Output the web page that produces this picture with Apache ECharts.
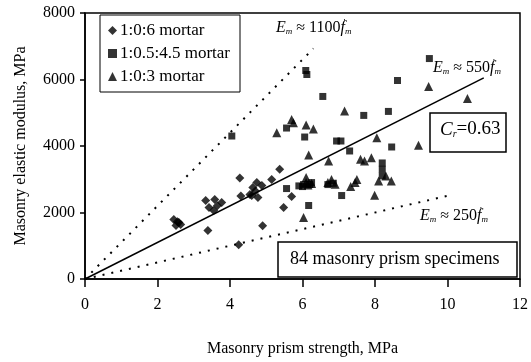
<!DOCTYPE html>
<html>
<head>
<meta charset="utf-8">
<script src="https://cdn.jsdelivr.net/npm/echarts@6/dist/echarts.min.js"></script>
<style>
  html, body { margin: 0; padding: 0; background: #fff; }
  #chart { width: 531px; height: 362px; }
</style>
</head>
<body>
<div id="chart"></div>
<script>
// mortar 1:0:6 (diamonds)
var mortar106 = [
    [2.45, 1790], [2.59, 1700], [2.51, 1610], [2.64, 1640], [2.55, 1720],
    [3.33, 2360], [3.58, 2390], [3.77, 2300], [3.42, 2150], [3.55, 2060], [3.39, 1460], [3.65, 2200],
    [4.27, 3040], [4.24, 1030], [4.3, 2500], [4.55, 2540], [4.63, 2750], [4.74, 2900], [4.88, 2810],
    [4.77, 2450], [4.6, 2510], [4.7, 2650], [4.9, 1600], [5.15, 2990], [5.37, 3300], [5.7, 2480], [5.48, 2150]
]
// mortar 1:0.5:4.5 (squares)
var mortar1545 = [
    [4.05, 4300], [5.56, 4540], [6.09, 6270], [6.12, 6150], [6.56, 5490], [6.06, 4270], [6.94, 4150], [7.06, 4150],
    [7.3, 3850], [7.69, 4920], [8.37, 5040], [8.62, 5970], [9.5, 6630], [8.46, 3970], [8.2, 3490],
    [8.2, 3300], [8.2, 3100], [5.56, 2720], [6.03, 2840], [6.2, 2840], [6.17, 2210], [6.7, 2840],
    [6.85, 2880], [7.08, 2510], [6.0, 2780], [6.25, 2900], [5.9, 2800]
]
// mortar 1:0:3 (triangles)
var mortar103 = [
    [5.29, 4400], [5.7, 4800], [5.75, 4700], [6.1, 4630], [6.3, 4510], [7.16, 5050], [9.48, 5790], [10.55, 5430],
    [8.05, 4250], [9.2, 4020], [6.17, 3730], [6.72, 3550], [7.71, 3550], [7.9, 3650], [8.45, 2950],
    [7.5, 2990], [7.33, 2780], [7.99, 2520], [6.03, 1850], [6.1, 3050], [6.8, 2990], [6.1, 2900],
    [6.25, 2870], [6.7, 2900], [7.45, 2900], [8.1, 2950], [7.6, 3600], [6.9, 2850], [6.15, 2830], [8.3, 3100]
]
// reference lines E = k f'm, endpoints as drawn
var line1100 = [[0, 0], [6.3, 6930]]
var line550 = [[0, 0], [11.0, 6050]]
var line250 = [[0, 0], [10.0, 2500]]

var serif = 'Liberation Serif'
var chart = echarts.init(document.getElementById('chart'))

function emText(k) {
    return '{i|E}{s|m}{n| ≈ ' + k + '}{i|f}{s|m}{p|\'}'
}
var emRich = {
    i: { fontFamily: serif, fontStyle: 'italic', fontSize: 16, fill: '#000' },
    s: { fontFamily: serif, fontStyle: 'italic', fontSize: 9, fill: '#000', padding: [8, 0, 0, 0] },
    p: { fontFamily: serif, fontSize: 10, fill: '#000', padding: [0, 0, 10, -8] },
    n: { fontFamily: serif, fontSize: 16, fill: '#000' }
}

chart.setOption({
    backgroundColor: '#fff',
    animation: false,
    grid: {
        left: 85,
        right: 10,
        top: 13,
        bottom: 80,
        show: true,
        borderColor: '#000',
        borderWidth: 1.5
    },
    legend: {
        orient: 'vertical',
        left: 100,
        top: 15,
        width: 150,
        borderColor: '#000',
        borderWidth: 1,
        padding: [7, 10, 7, 8],
        itemGap: 6,
        itemWidth: 9,
        itemHeight: 9,
        textStyle: { fontFamily: serif, fontSize: 17, color: '#000', padding: [0, 0, 0, -2] },
        data: ['1:0:6 mortar', '1:0.5:4.5 mortar', '1:0:3 mortar']
    },
    xAxis: {
        type: 'value',
        min: 0,
        max: 12,
        interval: 2,
        name: 'Masonry prism strength, MPa',
        nameLocation: 'middle',
        nameGap: 62,
        nameTextStyle: { fontFamily: serif, fontSize: 16, color: '#000' },
        axisLine: { lineStyle: { color: '#000', width: 1.5 } },
        axisTick: { length: 8, lineStyle: { color: '#000', width: 1.5 } },
        axisLabel: { fontFamily: serif, fontSize: 16, color: '#000', margin: 18 },
        splitLine: { show: false }
    },
    yAxis: {
        type: 'value',
        min: 0,
        max: 8000,
        interval: 2000,
        name: 'Masonry elastic modulus, MPa',
        nameLocation: 'middle',
        nameGap: 56,
        nameTextStyle: { fontFamily: serif, fontSize: 16, color: '#000' },
        axisLine: { show: true, lineStyle: { color: '#000', width: 1.5 } },
        axisTick: { show: true, length: 5, lineStyle: { color: '#000', width: 1.5 } },
        axisLabel: {
            fontFamily: serif,
            fontSize: 16,
            color: '#000',
            margin: 10,
            formatter: function (v) { return String(v) }
        },
        splitLine: { show: false }
    },
    series: [
        {
            name: '1:0:6 mortar',
            type: 'scatter',
            symbol: 'diamond',
            symbolSize: 9,
            itemStyle: { color: '#000' },
            data: mortar106
        },
        {
            name: '1:0.5:4.5 mortar',
            type: 'scatter',
            symbol: 'rect',
            symbolSize: 7,
            itemStyle: { color: '#000' },
            data: mortar1545
        },
        {
            name: '1:0:3 mortar',
            type: 'scatter',
            symbol: 'triangle',
            symbolSize: 9,
            itemStyle: { color: '#000' },
            data: mortar103
        },
        {
            type: 'line',
            symbol: 'none',
            lineStyle: { color: '#000', width: 2, type: [2, 7] },
            data: line1100
        },
        {
            type: 'line',
            symbol: 'none',
            lineStyle: { color: '#000', width: 1.5 },
            data: line550
        },
        {
            type: 'line',
            symbol: 'none',
            lineStyle: { color: '#000', width: 2, type: [2, 7] },
            data: line250
        }
    ],
    graphic: [
        {
            type: 'text',
            left: 276,
            top: 18,
            style: { text: emText(1100), rich: emRich }
        },
        {
            type: 'text',
            left: 433,
            top: 58,
            style: { text: emText(550), rich: emRich }
        },
        {
            type: 'text',
            left: 420,
            top: 206,
            style: { text: emText(250), rich: emRich }
        },
        {
            type: 'rect',
            shape: { x: 430, y: 113, width: 76, height: 39 },
            style: { fill: '#fff', stroke: '#000', lineWidth: 1.5 }
        },
        {
            type: 'text',
            left: 440,
            top: 120,
            style: {
                text: '{i|C}{s|r}{n|=0.63}',
                rich: {
                    i: { fontFamily: serif, fontStyle: 'italic', fontSize: 19, fill: '#000' },
                    s: { fontFamily: serif, fontStyle: 'italic', fontSize: 10, fill: '#000', padding: [10, 0, 0, 0] },
                    n: { fontFamily: serif, fontSize: 19, fill: '#000' }
                }
            }
        },
        {
            type: 'rect',
            shape: { x: 278, y: 242, width: 239, height: 35 },
            style: { fill: '#fff', stroke: '#000', lineWidth: 1.5 }
        },
        {
            type: 'text',
            left: 290,
            top: 250,
            style: { text: '84 masonry prism specimens', fontFamily: serif, fontSize: 18, fill: '#000' }
        }
    ]
})
</script>
</body>
</html>
